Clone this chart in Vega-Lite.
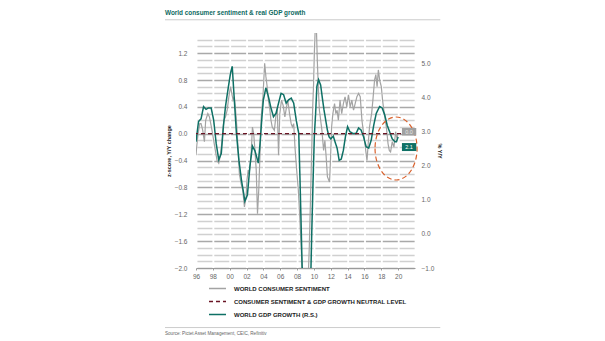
{
  "$schema": "https://vega.github.io/schema/vega-lite/v6.json",
  "width": 219,
  "height": 235,
  "autosize": {"type": "none"},
  "padding": {"left": 196, "top": 33, "right": 190, "bottom": 73},
  "background": "white",
  "config": {"view": {"stroke": null}, "font": "Liberation Sans", "axis": {"labelOverlap": false}},
  "title": {"text": "World consumer sentiment & real GDP growth", "anchor": "start", "frame": "group", "dx": -31, "offset": 3, "fontSize": 6.4, "font": "Liberation Sans", "fontWeight": "bold", "color": "#0d6a5f"},
  "datasets": {
    "sentiment": [
      {"year": 1996.0, "value": -0.32}, {"year": 1996.1, "value": -0.17}, {"year": 1996.25, "value": 0.0}, {"year": 1996.45, "value": 0.15},
      {"year": 1996.6, "value": 0.15}, {"year": 1996.8, "value": 0.05}, {"year": 1997.0, "value": -0.12}, {"year": 1997.15, "value": 0.2},
      {"year": 1997.4, "value": 0.3}, {"year": 1997.6, "value": 0.25}, {"year": 1997.9, "value": 0.05}, {"year": 1998.1, "value": -0.1},
      {"year": 1998.3, "value": -0.25}, {"year": 1998.5, "value": -0.4}, {"year": 1998.7, "value": -0.44}, {"year": 1998.9, "value": -0.32},
      {"year": 1999.1, "value": -0.1}, {"year": 1999.3, "value": 0.2}, {"year": 1999.5, "value": 0.25}, {"year": 1999.7, "value": 0.35},
      {"year": 1999.9, "value": 0.55}, {"year": 2000.1, "value": 0.7}, {"year": 2000.25, "value": 0.6}, {"year": 2000.4, "value": 0.5},
      {"year": 2000.55, "value": 0.55}, {"year": 2000.7, "value": 0.35}, {"year": 2000.85, "value": 0.1}, {"year": 2001.0, "value": -0.25},
      {"year": 2001.15, "value": -0.6}, {"year": 2001.35, "value": -0.74}, {"year": 2001.55, "value": -0.84}, {"year": 2001.75, "value": -1.09},
      {"year": 2001.95, "value": -0.94}, {"year": 2002.05, "value": -0.69}, {"year": 2002.2, "value": -0.54}, {"year": 2002.3, "value": -0.6},
      {"year": 2002.45, "value": -0.44}, {"year": 2002.55, "value": -0.29}, {"year": 2002.7, "value": 0.1}, {"year": 2002.85, "value": 0.0},
      {"year": 2003.0, "value": -0.25}, {"year": 2003.15, "value": -0.54}, {"year": 2003.3, "value": -1.19}, {"year": 2003.45, "value": -0.84},
      {"year": 2003.6, "value": -0.3}, {"year": 2003.75, "value": 0.25}, {"year": 2003.95, "value": 0.55}, {"year": 2004.15, "value": 1.05},
      {"year": 2004.3, "value": 0.85}, {"year": 2004.45, "value": 0.7}, {"year": 2004.6, "value": 0.5}, {"year": 2004.75, "value": 0.38},
      {"year": 2004.9, "value": 0.2}, {"year": 2005.05, "value": 0.1}, {"year": 2005.3, "value": 0.05}, {"year": 2005.5, "value": 0.28},
      {"year": 2005.65, "value": 0.38}, {"year": 2005.8, "value": -0.32}, {"year": 2005.95, "value": 0.3}, {"year": 2006.15, "value": 0.5},
      {"year": 2006.35, "value": 0.42}, {"year": 2006.55, "value": 0.25}, {"year": 2006.75, "value": 0.4}, {"year": 2006.9, "value": 0.5},
      {"year": 2007.1, "value": 0.3}, {"year": 2007.3, "value": 0.15}, {"year": 2007.45, "value": 0.1}, {"year": 2007.6, "value": 0.15},
      {"year": 2007.75, "value": -0.2}, {"year": 2007.95, "value": -0.54}, {"year": 2008.15, "value": -0.84}, {"year": 2008.3, "value": -1.19},
      {"year": 2008.45, "value": -1.59}, {"year": 2008.6, "value": -1.99}, {"year": 2008.8, "value": -2.4}, {"year": 2009.1, "value": -2.4},
      {"year": 2009.35, "value": -2.05}, {"year": 2009.45, "value": -1.69}, {"year": 2009.55, "value": -1.19}, {"year": 2009.65, "value": -0.69},
      {"year": 2009.75, "value": -0.19}, {"year": 2009.85, "value": 0.38}, {"year": 2009.95, "value": 0.7}, {"year": 2010.05, "value": 1.2},
      {"year": 2010.15, "value": 1.55}, {"year": 2010.3, "value": 1.55}, {"year": 2010.4, "value": 1.1}, {"year": 2010.55, "value": 0.6},
      {"year": 2010.65, "value": 0.35}, {"year": 2010.8, "value": 0.2}, {"year": 2010.95, "value": 0.05}, {"year": 2011.15, "value": -0.25},
      {"year": 2011.3, "value": -0.1}, {"year": 2011.45, "value": -0.34}, {"year": 2011.6, "value": -0.64}, {"year": 2011.85, "value": -0.72},
      {"year": 2011.95, "value": -0.44}, {"year": 2012.1, "value": 0.1}, {"year": 2012.25, "value": 0.3}, {"year": 2012.45, "value": 0.45},
      {"year": 2012.6, "value": 0.3}, {"year": 2012.75, "value": 0.35}, {"year": 2012.9, "value": 0.2}, {"year": 2013.1, "value": 0.5},
      {"year": 2013.3, "value": 0.3}, {"year": 2013.5, "value": 0.45}, {"year": 2013.7, "value": 0.55}, {"year": 2013.9, "value": 0.4},
      {"year": 2014.1, "value": 0.58}, {"year": 2014.3, "value": 0.4}, {"year": 2014.5, "value": 0.5}, {"year": 2014.7, "value": 0.35},
      {"year": 2014.9, "value": 0.45}, {"year": 2015.1, "value": 0.55}, {"year": 2015.3, "value": 0.6}, {"year": 2015.5, "value": 0.55},
      {"year": 2015.7, "value": 0.2}, {"year": 2015.9, "value": 0.0}, {"year": 2016.1, "value": -0.2}, {"year": 2016.3, "value": -0.4},
      {"year": 2016.45, "value": -0.14}, {"year": 2016.6, "value": 0.1}, {"year": 2016.85, "value": 0.3}, {"year": 2017.0, "value": 0.5},
      {"year": 2017.2, "value": 0.8}, {"year": 2017.35, "value": 0.88}, {"year": 2017.5, "value": 0.7}, {"year": 2017.65, "value": 0.95},
      {"year": 2017.8, "value": 0.8}, {"year": 2018.0, "value": 0.7}, {"year": 2018.15, "value": 0.5}, {"year": 2018.35, "value": 0.3},
      {"year": 2018.6, "value": 0.1}, {"year": 2018.8, "value": -0.15}, {"year": 2018.95, "value": -0.25}, {"year": 2019.1, "value": -0.27},
      {"year": 2019.3, "value": -0.12}, {"year": 2019.5, "value": -0.2}, {"year": 2019.7, "value": 0.03}, {"year": 2019.85, "value": -0.07},
      {"year": 2020.0, "value": 0.0}
    ],
    "gdp": [
      {"year": 1996.0, "value": 2.71}, {"year": 1996.3, "value": 3.3}, {"year": 1996.6, "value": 3.38}, {"year": 1996.9, "value": 3.74},
      {"year": 1997.2, "value": 3.66}, {"year": 1997.5, "value": 3.7}, {"year": 1997.8, "value": 3.7}, {"year": 1998.1, "value": 3.34},
      {"year": 1998.4, "value": 2.65}, {"year": 1998.7, "value": 2.18}, {"year": 1999.0, "value": 2.36}, {"year": 1999.25, "value": 3.15},
      {"year": 1999.5, "value": 3.74}, {"year": 1999.85, "value": 4.33}, {"year": 2000.1, "value": 4.72}, {"year": 2000.3, "value": 4.92},
      {"year": 2000.5, "value": 4.13}, {"year": 2000.8, "value": 2.95}, {"year": 2001.1, "value": 2.16}, {"year": 2001.4, "value": 1.57},
      {"year": 2001.6, "value": 1.28}, {"year": 2001.8, "value": 0.96}, {"year": 2002.1, "value": 1.14}, {"year": 2002.4, "value": 1.98},
      {"year": 2002.7, "value": 2.58}, {"year": 2003.0, "value": 2.44}, {"year": 2003.4, "value": 2.08}, {"year": 2003.6, "value": 2.65},
      {"year": 2003.8, "value": 3.34}, {"year": 2004.0, "value": 3.94}, {"year": 2004.3, "value": 4.29}, {"year": 2004.6, "value": 4.03},
      {"year": 2004.9, "value": 3.7}, {"year": 2005.2, "value": 3.44}, {"year": 2005.5, "value": 3.54}, {"year": 2005.8, "value": 3.84},
      {"year": 2006.1, "value": 4.13}, {"year": 2006.4, "value": 4.09}, {"year": 2006.7, "value": 3.84}, {"year": 2007.0, "value": 3.94},
      {"year": 2007.3, "value": 3.99}, {"year": 2007.6, "value": 3.84}, {"year": 2007.9, "value": 3.34}, {"year": 2008.2, "value": 2.95},
      {"year": 2008.35, "value": 1.57}, {"year": 2008.5, "value": 0.09}, {"year": 2008.6, "value": -0.99}, {"year": 2008.8, "value": -1.8},
      {"year": 2009.1, "value": -1.8}, {"year": 2009.4, "value": -1.7}, {"year": 2009.65, "value": -0.99}, {"year": 2009.75, "value": 0.11},
      {"year": 2009.9, "value": 1.57}, {"year": 2010.05, "value": 2.87}, {"year": 2010.2, "value": 3.54}, {"year": 2010.35, "value": 4.33},
      {"year": 2010.55, "value": 4.53}, {"year": 2010.8, "value": 4.37}, {"year": 2011.0, "value": 3.99}, {"year": 2011.2, "value": 3.64},
      {"year": 2011.4, "value": 3.34}, {"year": 2011.6, "value": 3.05}, {"year": 2011.8, "value": 2.85}, {"year": 2012.0, "value": 2.79},
      {"year": 2012.3, "value": 2.87}, {"year": 2012.5, "value": 2.71}, {"year": 2012.75, "value": 2.52}, {"year": 2013.0, "value": 2.16},
      {"year": 2013.25, "value": 2.2}, {"year": 2013.5, "value": 2.46}, {"year": 2013.75, "value": 2.87}, {"year": 2014.0, "value": 3.15},
      {"year": 2014.25, "value": 3.01}, {"year": 2014.6, "value": 2.95}, {"year": 2015.0, "value": 2.95}, {"year": 2015.3, "value": 3.11},
      {"year": 2015.6, "value": 3.05}, {"year": 2015.9, "value": 2.85}, {"year": 2016.2, "value": 2.56}, {"year": 2016.5, "value": 2.52},
      {"year": 2016.8, "value": 2.75}, {"year": 2017.1, "value": 3.19}, {"year": 2017.4, "value": 3.54}, {"year": 2017.8, "value": 3.74},
      {"year": 2018.1, "value": 3.7}, {"year": 2018.4, "value": 3.5}, {"year": 2018.7, "value": 3.19}, {"year": 2019.0, "value": 2.99},
      {"year": 2019.3, "value": 2.79}, {"year": 2019.6, "value": 2.71}, {"year": 2019.8, "value": 2.71}, {"year": 2020.0, "value": 2.85}
    ]
  },
  "layer": [
    {
      "data": {"name": "sentiment"},
      "mark": {"type": "line", "clip": true, "strokeWidth": 1.2},
      "encoding": {
        "x": {"field": "year", "type": "quantitative", "scale": {"domain": [1996, 2022], "nice": false, "zero": false},
          "axis": {"title": null, "values": [1996, 1998, 2000, 2002, 2004, 2006, 2008, 2010, 2012, 2014, 2016, 2018, 2020], "tickCount": 40,
            "labelExpr": "substring(toString(datum.value), 2, 4)", "grid": false, "domainColor": "#9a9a9a", "domainWidth": 1,
            "tickColor": "#9a9a9a", "tickSize": 2, "labelFontSize": 6.5, "labelColor": "#666", "labelPadding": 3, "labelFlush": false, "labelOverlap": false, "labelBound": false}},
        "y": {"field": "value", "type": "quantitative", "scale": {"domain": [-2, 1.5], "nice": false, "zero": false},
          "axis": {"title": "z-score, Y/Y change", "orient": "left", "tickCount": 60,
            "values": [-2.0, -1.9, -1.8, -1.7, -1.6, -1.5, -1.4, -1.3, -1.2, -1.1, -1.0, -0.9, -0.8, -0.7, -0.6, -0.5, -0.4, -0.3, -0.2, -0.1, 0.0, 0.1, 0.2, 0.3, 0.4, 0.5, 0.6, 0.7, 0.8, 0.9, 1.0, 1.1, 1.2, 1.3, 1.4],
            "labelExpr": "abs(round(datum.value*10)) % 4 == 0 ? format(datum.value, '.1f') : ''",
            "labelOverlap": false, "labelBound": false, "labelFlush": false,
            "ticks": false, "domain": false, "grid": true,
            "gridColor": {"condition": {"test": "abs(round(datum.value*10)) % 4 == 0", "value": "#a9a9a9"}, "value": "#d0d0d0"},
            "gridWidth": 1.6, "gridDash": [15, 1.85], "gridDashOffset": 15.92,
            "labelFontSize": 6.5, "labelColor": "#666", "labelPadding": 9,
            "titleFontSize": 5.5, "titleFontWeight": "bold", "titleColor": "#222", "titlePadding": 3}},
        "color": {"datum": "WORLD CONSUMER SENTIMENT",
          "scale": {"domain": ["WORLD CONSUMER SENTIMENT", "CONSUMER SENTIMENT & GDP GROWTH NEUTRAL LEVEL", "WORLD GDP GROWTH  (R.S.)"], "range": ["#a3a3a3", "#6a1424", "#0e7065"]},
          "legend": {"orient": "none", "legendX": 12, "legendY": 246, "title": null, "symbolType": "stroke", "symbolSize": 289, "symbolStrokeWidth": 1.4,
            "labelFontSize": 6, "labelFontWeight": "bold", "labelColor": "#222", "labelOffset": 7, "rowPadding": -5, "labelLimit": 400}},
        "strokeDash": {"datum": "WORLD CONSUMER SENTIMENT",
          "scale": {"domain": ["WORLD CONSUMER SENTIMENT", "CONSUMER SENTIMENT & GDP GROWTH NEUTRAL LEVEL", "WORLD GDP GROWTH  (R.S.)"], "range": [[1, 0], [4, 3], [1, 0]]},
          "legend": {"orient": "none", "legendX": 12, "legendY": 246, "title": null, "symbolType": "stroke", "symbolSize": 289, "symbolStrokeWidth": 1.4,
            "labelFontSize": 6, "labelFontWeight": "bold", "labelColor": "#222", "labelOffset": 7, "rowPadding": -5, "labelLimit": 400}}
      }
    },
    {
      "data": {"name": "gdp"},
      "mark": {"type": "line", "clip": true, "strokeWidth": 1.5},
      "encoding": {
        "x": {"field": "year", "type": "quantitative", "scale": {"domain": [1996, 2022], "nice": false, "zero": false},
          "axis": {"title": null, "values": [1996, 1998, 2000, 2002, 2004, 2006, 2008, 2010, 2012, 2014, 2016, 2018, 2020], "tickCount": 40,
            "labelExpr": "substring(toString(datum.value), 2, 4)", "grid": false, "domainColor": "#9a9a9a", "domainWidth": 1,
            "tickColor": "#9a9a9a", "tickSize": 2, "labelFontSize": 6.5, "labelColor": "#666", "labelPadding": 3, "labelFlush": false, "labelOverlap": false, "labelBound": false}},
        "y": {"field": "value", "type": "quantitative", "scale": {"domain": [-1, 5.9], "nice": false, "zero": false},
          "axis": {"orient": "right", "title": "% Y/Y", "values": [-1, 0, 1, 2, 3, 4, 5], "tickCount": 20, "format": ".1f", "grid": false, "ticks": false, "domain": false,
            "labelFontSize": 6.5, "labelColor": "#666", "labelPadding": 6, "titleFontSize": 5.5, "titleFontWeight": "bold", "titleColor": "#222", "titlePadding": 3}},
        "color": {"datum": "WORLD GDP GROWTH  (R.S.)"},
        "strokeDash": {"datum": "WORLD GDP GROWTH  (R.S.)"}
      }
    },
    {
      "data": {"values": [{}]},
      "layer": [
        {
          "mark": {"type": "rule", "strokeWidth": 1.2},
          "encoding": {
            "y": {"datum": 0, "scale": {"domain": [-2, 1.5], "nice": false, "zero": false}, "axis": null},
            "color": {"datum": "CONSUMER SENTIMENT & GDP GROWTH NEUTRAL LEVEL"},
            "strokeDash": {"datum": "CONSUMER SENTIMENT & GDP GROWTH NEUTRAL LEVEL"}
          }
        },
        {
          "mark": {"type": "rule", "color": "#cccccc", "strokeWidth": 1},
          "encoding": {
            "x": {"datum": 1992.32, "scale": {"domain": [1996, 2022], "nice": false, "zero": false}},
            "x2": {"datum": 2025.0},
            "y": {"datum": 1.697, "scale": {"domain": [-2, 1.5], "nice": false, "zero": false}, "axis": null}
          }
        },
        {
          "mark": {"type": "rule", "color": "#cccccc", "strokeWidth": 1},
          "encoding": {
            "x": {"datum": 1992.32, "scale": {"domain": [1996, 2022], "nice": false, "zero": false}},
            "x2": {"datum": 2025.0},
            "y": {"datum": -2.887, "scale": {"domain": [-2, 1.5], "nice": false, "zero": false}, "axis": null}
          }
        },
        {
          "mark": {"type": "text", "align": "left", "baseline": "middle", "fontSize": 4.6, "color": "#666", "text": "Source: Pictet Asset Management, CEIC, Refinitiv"},
          "encoding": {
            "x": {"datum": 1992.32, "scale": {"domain": [1996, 2022], "nice": false, "zero": false}},
            "y": {"datum": -2.99, "scale": {"domain": [-2, 1.5], "nice": false, "zero": false}, "axis": null}
          }
        },
        {
          "mark": {"type": "point", "shape": "M -0.667 0 A 0.667 1 0 1 0 0.667 0 A 0.667 1 0 1 0 -0.667 0 Z", "size": 3969, "filled": false, "stroke": "#d9602b", "strokeWidth": 1.2, "strokeDash": [5, 3], "opacity": 1},
          "encoding": {
            "x": {"datum": 2019.75, "scale": {"domain": [1996, 2022], "nice": false, "zero": false}},
            "y": {"datum": -0.22, "scale": {"domain": [-2, 1.5], "nice": false, "zero": false}, "axis": null}
          }
        },
        {
          "mark": {"type": "rect", "color": "#a0a0a0"},
          "encoding": {
            "x": {"datum": 2020.45, "scale": {"domain": [1996, 2022], "nice": false, "zero": false}},
            "x2": {"datum": 2022.15},
            "y": {"datum": 0.085, "scale": {"domain": [-2, 1.5], "nice": false, "zero": false}, "axis": null},
            "y2": {"datum": -0.027}
          }
        },
        {
          "mark": {"type": "rect", "color": "#0e7065"},
          "encoding": {
            "x": {"datum": 2020.45, "scale": {"domain": [1996, 2022], "nice": false, "zero": false}},
            "x2": {"datum": 2022.15},
            "y": {"datum": -0.139, "scale": {"domain": [-2, 1.5], "nice": false, "zero": false}, "axis": null},
            "y2": {"datum": -0.258}
          }
        },
        {
          "mark": {"type": "text", "align": "center", "baseline": "middle", "fontSize": 5.5, "color": "#e8e8e8", "text": "0.0"},
          "encoding": {
            "x": {"datum": 2021.3, "scale": {"domain": [1996, 2022], "nice": false, "zero": false}},
            "y": {"datum": 0.029, "scale": {"domain": [-2, 1.5], "nice": false, "zero": false}, "axis": null}
          }
        },
        {
          "mark": {"type": "text", "align": "center", "baseline": "middle", "fontSize": 5.5, "color": "#ffffff", "text": "2.1"},
          "encoding": {
            "x": {"datum": 2021.3, "scale": {"domain": [1996, 2022], "nice": false, "zero": false}},
            "y": {"datum": -0.198, "scale": {"domain": [-2, 1.5], "nice": false, "zero": false}, "axis": null}
          }
        }
      ]
    }
  ],
  "resolve": {"scale": {"y": "independent"}, "axis": {"y": "independent"}}
}
